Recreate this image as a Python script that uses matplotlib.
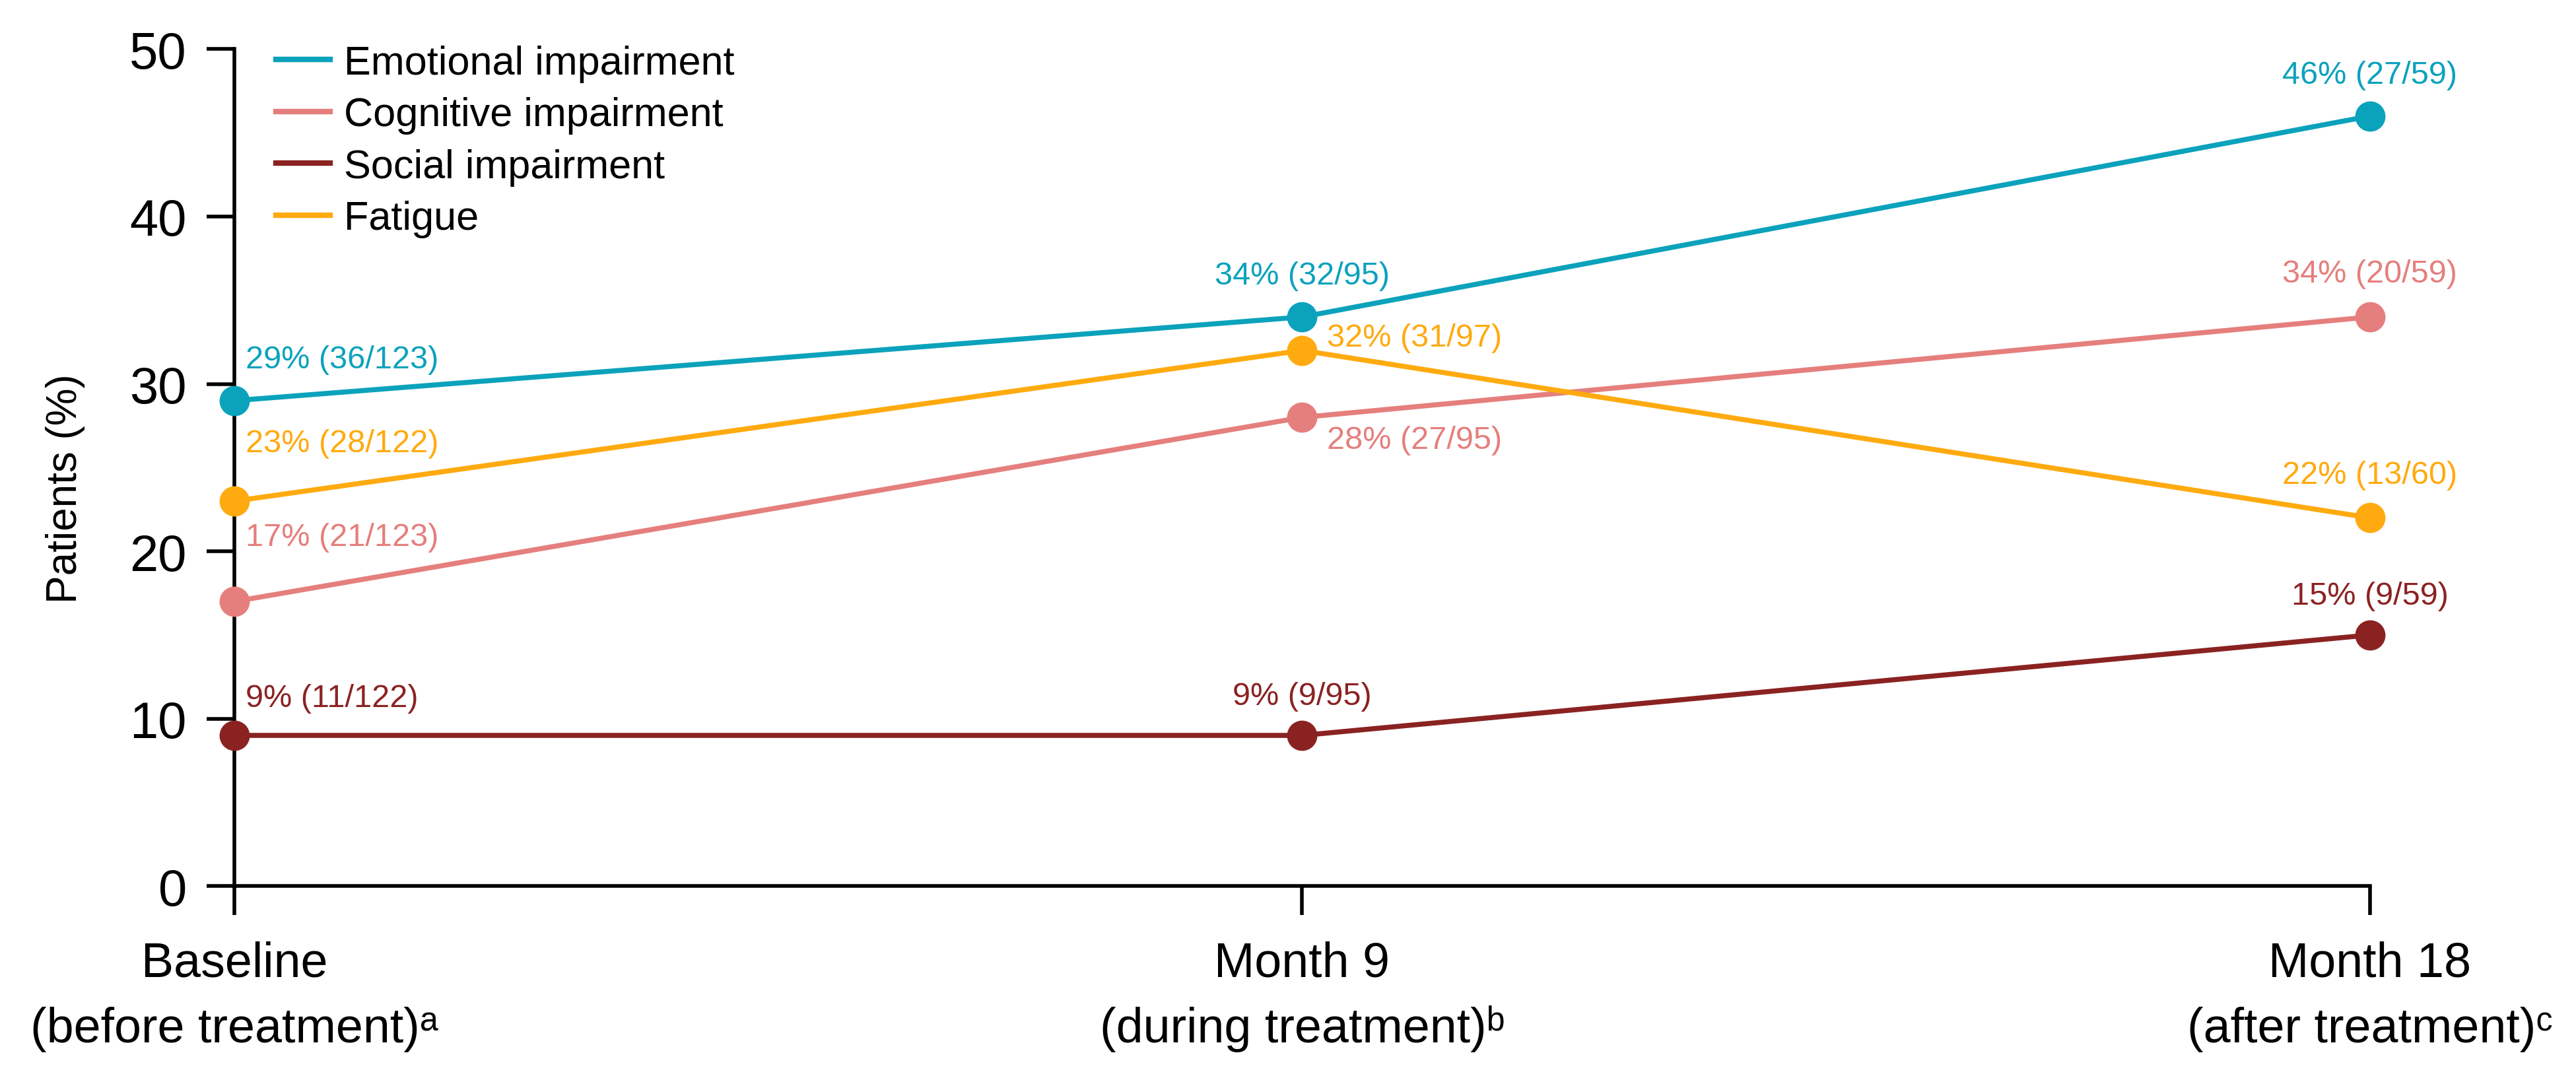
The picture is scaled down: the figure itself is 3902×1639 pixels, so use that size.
import matplotlib
matplotlib.use("Agg")
import matplotlib.pyplot as plt

plt.rcParams['font.family'] = ['Liberation Sans', 'DejaVu Sans']

# time points and tick labels (two lines each)
timepoints = [0, 1, 2]
tick_top = ["Baseline", "Month 9", "Month 18"]
tick_bottom = ["(before treatment)\u1d43",
               "(during treatment)\u1d47",
               "(after treatment)\u1d9c"]

# percentages of patients per domain
emotional = [29, 34, 46]
cognitive = [17, 28, 34]
social = [9, 9, 15]
fatigue = [23, 32, 22]

# point labels (n/N)
emotional_lbl = ["29% (36/123)", "34% (32/95)", "46% (27/59)"]
cognitive_lbl = ["17% (21/123)", "28% (27/95)", "34% (20/59)"]
social_lbl = ["9% (11/122)", "9% (9/95)", "15% (9/59)"]
fatigue_lbl = ["23% (28/122)", "32% (31/97)", "22% (13/60)"]

series = [
    ("Emotional impairment", emotional, emotional_lbl, '#0BA2BC'),
    ("Cognitive impairment", cognitive, cognitive_lbl, '#E57F7D'),
    ("Social impairment", social, social_lbl, '#8B2222'),
    ("Fatigue", fatigue, fatigue_lbl, '#FFAA0F'),
]

# label offsets in points (dx, dy, ha) for each series / time point
offsets = {
    "Emotional impairment": [(12, 45, 'left'), (0, 45, 'center'), (0, 45, 'center')],
    "Cognitive impairment": [(12, 70, 'left'), (27, -25, 'left'), (0, 47, 'center')],
    "Social impairment": [(12, 41, 'left'), (0, 43, 'center'), (0, 43, 'center')],
    "Fatigue": [(12, 63, 'left'), (27, 14, 'left'), (0, 47, 'center')],
}

fig = plt.figure(figsize=(39.02, 16.4), dpi=100)
ax = fig.add_axes([0.091, 0.181, 0.829, 0.773])

for name, vals, lbls, col in series:
    ax.plot(timepoints, vals, color=col, lw=5.5, marker='o', ms=32,
            clip_on=False, label=name, zorder=3)
    for t, v, s, (dx, dy, ha) in zip(timepoints, vals, lbls, offsets[name]):
        ax.annotate(s, (t, v), xytext=(dx, dy), textcoords='offset points',
                    ha=ha, va='center', fontsize=35, color=col)

ax.set_xlim(0, 2)
ax.set_ylim(0, 50)
ax.set_yticks([0, 10, 20, 30, 40, 50])
ax.set_xticks(timepoints)
ax.set_xticklabels(tick_top, fontsize=53)
ax.tick_params(axis='y', labelsize=56, length=30, width=4, pad=22)
ax.tick_params(axis='x', length=32, width=4, pad=27)

# second line of the x labels, on a common baseline
for t, s in zip(timepoints, tick_bottom):
    ax.annotate(s, (t, 0), xycoords=('data', 'axes fraction'),
                xytext=(0, -170), textcoords='offset points',
                ha='center', va='baseline', fontsize=53, annotation_clip=False)

for side in ['top', 'right']:
    ax.spines[side].set_visible(False)
for side in ['left', 'bottom']:
    ax.spines[side].set_linewidth(4)

ax.set_ylabel("Patients (%)", fontsize=46)
ax.yaxis.set_label_coords(-0.070, 0.476)

leg = ax.legend(loc='upper left', bbox_to_anchor=(0.107, 0.958),
                bbox_transform=fig.transFigure, frameon=False, fontsize=44,
                handlelength=1.35, handletextpad=0.35, labelspacing=0.35,
                borderpad=0, borderaxespad=0)
for h in leg.get_lines():
    h.set_marker('')
    h.set_linewidth(6)

fig.savefig("out.png", dpi=100)
